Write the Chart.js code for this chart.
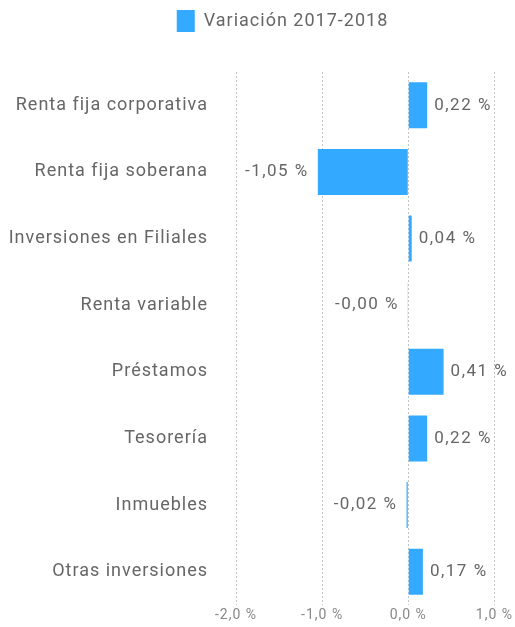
<!DOCTYPE html>
<html>
<head>
<meta charset="utf-8">
<script src="https://cdn.jsdelivr.net/npm/chart.js@4/dist/chart.umd.min.js"></script>
<style>
  html, body { margin: 0; padding: 0; background: #fff; }
  #wrap { width: 515px; height: 627px; }
</style>
</head>
<body>
<div id="wrap"><canvas id="myChart" width="515" height="627"></canvas></div>
<script>
'use strict';

const categories = [
  'Renta fija corporativa',
  'Renta fija soberana',
  'Inversiones en Filiales',
  'Renta variable',
  'Préstamos',
  'Tesorería',
  'Inmuebles',
  'Otras inversiones'
];
const variacion = [0.22, -1.05, 0.04, -0.004, 0.41, 0.22, -0.02, 0.17];
const seriesLabel = 'Variación 2017-2018';
const xTicks = [-2, -1, 0, 1];

const fmt = (v, digits) => v.toFixed(digits).replace('.', ',') + ' %';

// a bit of letter spacing on all text, like the original font
const setSpacing = chart => {
  if ('letterSpacing' in chart.ctx) chart.ctx.letterSpacing = '1px';
};
const spacing = {
  id: 'spacing',
  beforeInit(chart) {
    const fit = chart.legend.fit;
    chart.legend.fit = function () {
      fit.call(this);
      this.height += 30;
    };
  },
  beforeLayout: setSpacing,
  beforeDraw: setSpacing,
  afterLayout(chart) {
    // legend sits a little right of the canvas centre
    chart.legend.left += 30;
    chart.legend.right += 30;
  }
};

const valueLabels = {
  id: 'valueLabels',
  afterDatasetsDraw(chart) {
    const ctx = chart.ctx;
    const meta = chart.getDatasetMeta(0);
    ctx.save();
    ctx.font = '17px Roboto';
    ctx.fillStyle = '#666';
    ctx.textBaseline = 'middle';
    if ('letterSpacing' in ctx) ctx.letterSpacing = '1.5px';
    meta.data.forEach((bar, i) => {
      const v = variacion[i];
      if (v >= 0) {
        ctx.textAlign = 'left';
        ctx.fillText(fmt(v, 2), bar.x + 7, bar.y);
      } else {
        ctx.textAlign = 'right';
        ctx.fillText(fmt(v, 2), bar.x - 9, bar.y);
      }
    });
    ctx.restore();
  }
};

const ctx = document.getElementById('myChart').getContext('2d');

const myChart = new Chart(ctx, {
  type: 'bar',
  data: {
    labels: categories,
    datasets: [{
      label: seriesLabel,
      data: variacion,
      backgroundColor: '#33a9ff',
      borderWidth: 0,
      barPercentage: 0.69,
      categoryPercentage: 1
    }]
  },
  options: {
    indexAxis: 'y',
    responsive: false,
    animation: false,
    layout: { padding: { left: 6, right: 16, top: 0, bottom: 0 } },
    plugins: {
      legend: {
        display: true,
        position: 'top',
        labels: {
          boxWidth: 18,
          boxHeight: 22,
          padding: 10,
          color: '#666',
          font: { family: 'Roboto', size: 18 }
        }
      },
      tooltip: { enabled: false }
    },
    scales: {
      x: {
        min: -2,
        max: 1,
        afterBuildTicks(axis) {
          axis.ticks = xTicks.map(v => ({ value: v }));
        },
        afterFit(axis) {
          axis.height = 22;
        },
        border: { display: false, dash: [2, 2] },
        grid: {
          color: '#c4c4c4',
          drawTicks: false
        },
        ticks: {
          color: '#888',
          padding: 2,
          font: { family: 'Roboto', size: 14 },
          callback: v => fmt(v, 1)
        }
      },
      y: {
        afterFit(axis) {
          axis.width = 230;
          axis.paddingTop = 0;
          axis.paddingBottom = 0;
        },
        border: { display: false },
        grid: { display: false, drawTicks: false },
        ticks: {
          color: '#666',
          padding: 28,
          font: { family: 'Roboto', size: 18 }
        }
      }
    }
  },
  plugins: [spacing, valueLabels]
});
</script>
</body>
</html>
